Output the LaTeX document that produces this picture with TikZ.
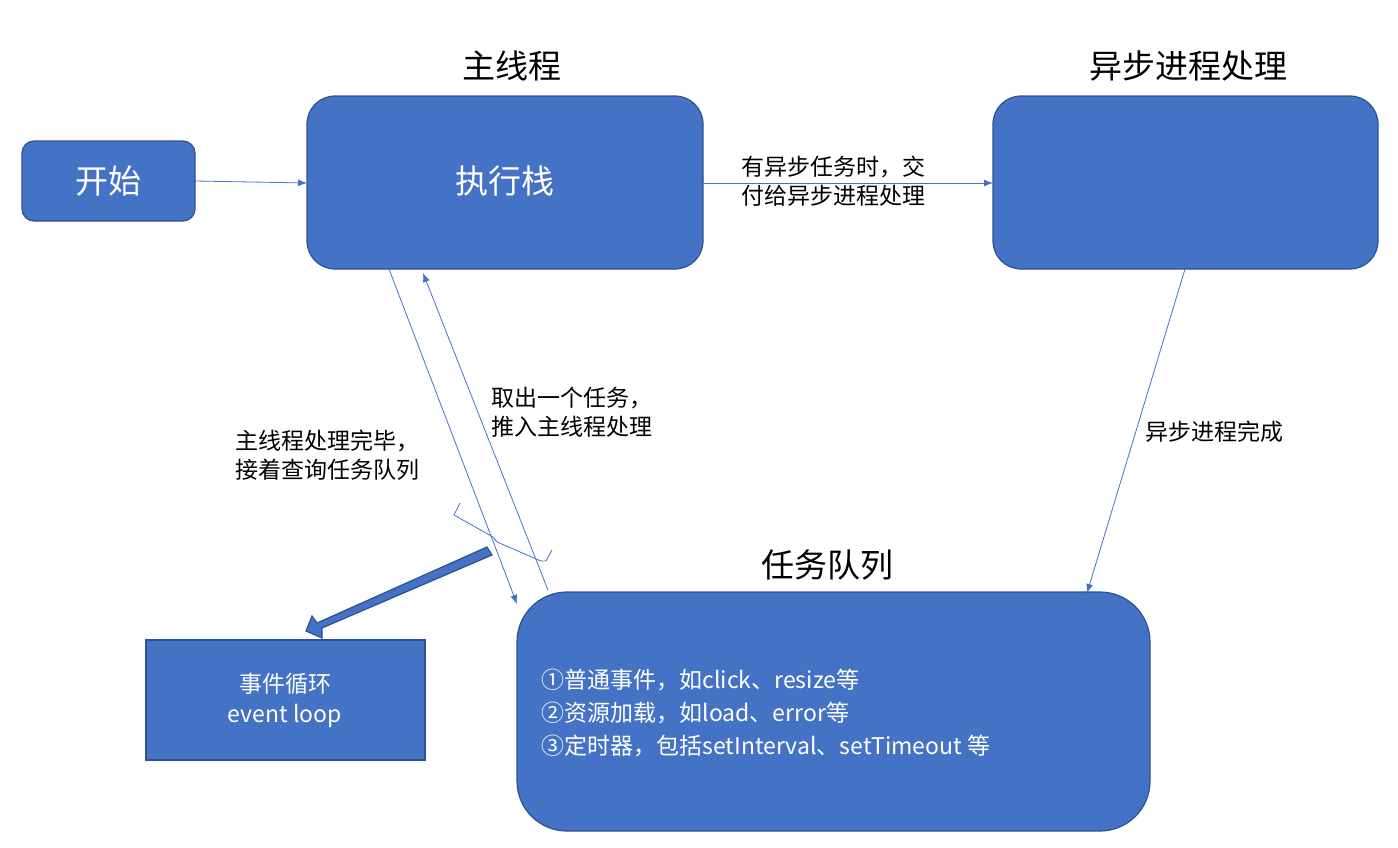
\documentclass[tikz,border=0pt]{standalone}
\usepackage{fontspec}
\setmainfont{Noto Sans CJK SC}
\begin{document}
\begin{tikzpicture}[x=1pt,y=-1pt,
  box/.style={draw=bdr,fill=blu,line width=1.2pt},
  thin/.style={draw=blu,line width=0.8pt,-{Latex[length=9pt,width=7pt]}},
  lbl/.style={font=\fontsize{23}{29}\selectfont,align=left,anchor=west},
  ttl/.style={font=\fontsize{33}{38}\selectfont}]
\definecolor{blu}{HTML}{4472C4}
\definecolor{bdr}{HTML}{2F528F}
\useasboundingbox (0,0) rectangle (1398,847);
\usetikzlibrary{arrows.meta}
\draw[box,rounded corners=12pt] (22,141) rectangle (195,221);
\node[text=white,ttl] (start) at (108,181) {开始};
\draw[box,rounded corners=28pt] (307,96) rectangle (703,269);
\node[text=white,ttl] (stack) at (505,181) {执行栈};
\draw[box,rounded corners=28pt] (993,96) rectangle (1378,269);
\coordinate (async) at (1185,181);
\draw[box,rounded corners=50pt] (517,592) rectangle (1150,831);
\draw[box] (146,640) rectangle (425,760);
\node[text=white,font=\fontsize{23}{30}\selectfont,align=center] (loop) at (285,700) {事件循环\\event loop};
\node[ttl] (t1) at (512,66) {主线程};
\node[ttl] (t2) at (1188,66) {异步进程处理};
\node[ttl] (t3) at (827,565) {任务队列};
\node[lbl,text=white,font=\fontsize{23}{33}\selectfont] (list) at (538,713) {①普通事件，如click、resize等\\②资源加载，如load、error等\\③定时器，包括setInterval、setTimeout 等};
\coordinate (a1) at (195,181); \coordinate (a2) at (307,183);
\draw[thin] (a1) -- (a2);
\coordinate (b1) at (703,183); \coordinate (b2) at (993,183);
\draw[thin] (b1) -- (b2);
\node[lbl] (lb) at (738,181) {有异步任务时，交\\付给异步进程处理};
\coordinate (c1) at (1185,269); \coordinate (c2) at (1087,593);
\draw[thin] (c1) -- (c2);
\node[lbl] (lc) at (1142,432) {异步进程完成};
\coordinate (d1) at (389,269); \coordinate (d2) at (517,604);
\draw[thin] (d1) -- (d2);
\node[lbl] (ld) at (232,455) {主线程处理完毕，\\接着查询任务队列};
\coordinate (e1) at (548,590); \coordinate (e2) at (423,273);
\draw[thin] (e1) -- (e2);
\node[lbl] (le) at (488,412) {取出一个任务，\\推入主线程处理};
\draw[blu,line width=0.8pt] (460,503) -- (454,515) -- (493,537) -- (497,542) -- (541,561) -- (546,561) -- (552,550);
\draw[fill=blu,draw=bdr,line width=1.2pt] (487,547) -- (492,555) -- (322,628) -- (322,638) -- (306,631) -- (312,616) -- (317,623) -- cycle;
\end{tikzpicture}
\end{document}
